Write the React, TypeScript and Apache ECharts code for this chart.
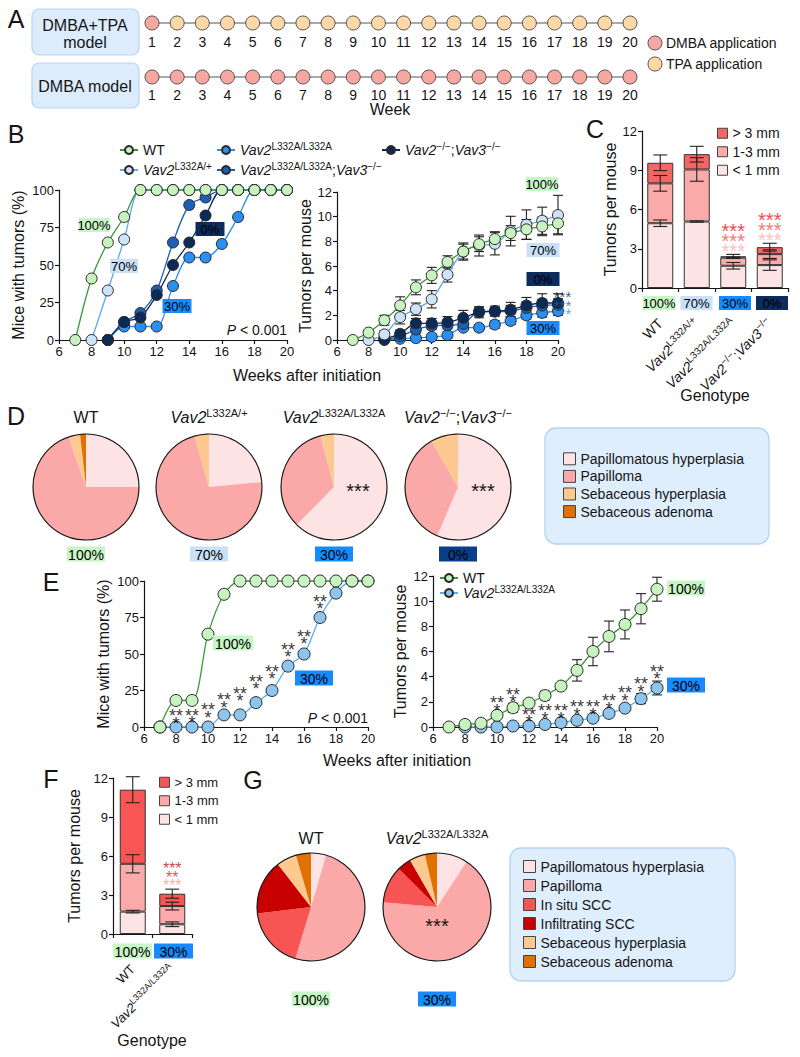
import React, { useEffect, useRef } from 'react';
import * as echarts from 'echarts';

const FONT = "'Liberation Sans', Arial, Helvetica, sans-serif";
const INK = '#151515';

// ---------------- Panel A ----------------
const aWeeks = ['1', '2', '3', '4', '5', '6', '7', '8', '9', '10', '11', '12', '13', '14', '15', '16', '17', '18', '19', '20'];
const aRowDmbaTpa = ['DMBA', 'TPA', 'TPA', 'TPA', 'TPA', 'TPA', 'TPA', 'TPA', 'TPA', 'TPA', 'TPA', 'TPA', 'TPA', 'TPA', 'TPA', 'TPA', 'TPA', 'TPA', 'TPA', 'TPA'];
const aRowDmba = ['DMBA', 'DMBA', 'DMBA', 'DMBA', 'DMBA', 'DMBA', 'DMBA', 'DMBA', 'DMBA', 'DMBA', 'DMBA', 'DMBA', 'DMBA', 'DMBA', 'DMBA', 'DMBA', 'DMBA', 'DMBA', 'DMBA', 'DMBA'];
const aColors: Record<string, string> = { DMBA: '#f7a7a1', TPA: '#fdd8a7' };

// ---------------- Panel B ----------------
const bWeeks = [7, 8, 9, 10, 11, 12, 13, 14, 15, 16, 17, 18, 19, 20];
const bIncWT = [0, 41, 65, 82, 100, 100, 100, 100, 100, 100, 100, 100, 100, 100];
const bIncHet = [null, 0, 33, 67, 100, 100, 100, 100, 100, 100, 100, 100, 100, 100];
const bIncHom = [null, null, 0, 9, 9, 9, 36, 55, 55, 64, 82, 100, 100, 100];
const bIncHomVav3 = [null, null, 0, 12, 18, 33, 65, 90, 95, 100, 100, 100, 100, 100];
const bIncKO = [null, null, 0, 12, 15, 30, 50, 65, 83, 100, 100, 100, 100, 100];

const bTumWT = [0, 0.6, 1.6, 2.8, 4.27, 5.24, 6.33, 7.17, 7.77, 8.18, 8.67, 8.97, 9.21, 9.46];
const bTumWTErr = [0, 0.15, 0.4, 0.7, 0.6, 0.65, 0.5, 0.6, 0.6, 0.6, 0.6, 0.8, 0.75, 0.85];
const bTumHet = [null, 0, 0.45, 1.85, 2.5, 3.3, 5.3, 7.17, 7.66, 7.8, 8.83, 9.35, 9.67, 10.13];
const bTumHetErr = [null, 0, 0.3, 0.55, 0.5, 0.7, 0.6, 0.7, 0.85, 0.9, 1.2, 1.2, 1.1, 1.6];
const bTumHom = [null, null, 0, 0.1, 0.15, 0.25, 0.4, 1.0, 1.0, 1.25, 1.55, 2.0, 2.2, 2.35];
const bTumHomErr = [null, null, 0, 0.1, 0.15, 0.2, 0.25, 0.2, 0.25, 0.3, 0.3, 0.3, 0.35, 0.35];
const bTumHomVav3 = [null, null, 0.05, 0.3, 0.85, 1.15, 1.2, 1.3, 2.3, 2.3, 2.35, 2.6, 2.8, 2.85];
const bTumHomVav3Err = [null, null, 0.05, 0.2, 0.3, 0.3, 0.3, 0.35, 0.35, 0.35, 0.45, 0.5, 0.5, 0.5];
const bTumKO = [null, null, 0.1, 0.5, 1.35, 1.35, 1.45, 1.8, 2.25, 2.35, 2.45, 2.8, 3.0, 3.0];
const bTumKOErr = [null, null, 0.1, 0.3, 0.4, 0.4, 0.45, 0.6, 0.45, 0.4, 0.6, 0.65, 0.75, 0.75];
const bStarCenterY = 3.07;
const bStarText = ['***', '***', '***'];
const bStarGroups = ['KO', 'L332A/L332A;Vav3', 'L332A/L332A'];

// ---------------- Panel C ----------------
const cGenotypes = ['WT', 'L332A/+', 'L332A/L332A', 'KO'];
const cPercent = ['100%', '70%', '30%', '0%'];
const cSmall = [4.95, 5.08, 1.7, 1.75];
const cSmallErr = [0.25, 0.05, 0.25, 0.4];
const cMedium = [3.05, 3.98, 0.62, 0.84];
const cMediumErr = [0.6, 0.9, 0.05, 0.33];
const cLarge = [1.57, 1.17, 0.1, 0.53];
const cLargeErr = [0.6, 0.6, 0.15, 0.3];
const cStarCats = [2, 3];
const cStarCenterY = [3.9, 4.74];
const cStarText = ['***', '***', '***'];
const cStarColor = ['#e8141c', '#f25555', '#f7b0b0'];

// ---------------- Panel D ----------------
const dCats = ['Papillomatous hyperplasia', 'Papilloma', 'Sebaceous hyperplasia', 'Sebaceous adenoma'];
const dWT = [25, 69.7, 3.5, 1.8];
const dHet = [23.5, 72.1, 4.4, 0];
const dHom = [62.4, 33.5, 4.1, 0];
const dKO = [56.4, 35.3, 8.3, 0];
const dGenotypes = ['WT', 'L332A/+', 'L332A/L332A', 'KO'];
const dPercent = ['100%', '70%', '30%', '0%'];

// ---------------- Panel E ----------------
const eWeeks = [7, 8, 9, 10, 11, 12, 13, 14, 15, 16, 17, 18, 19, 20];
const eIncWT = [0, 18.2, 18.2, 63.6, 90.9, 100, 100, 100, 100, 100, 100, 100, 100, 100];
const eIncHom = [0, 0, 0, 0, 8.3, 8.3, 16.7, 25, 41.7, 50, 75, 91.7, 100, 100];
const eTumWT = [0, 0.2, 0.3, 0.93, 1.53, 1.9, 2.5, 3.25, 4.5, 6.0, 7.2, 8.15, 9.4, 10.95];
const eTumWTErr = [0, 0.1, 0.1, 0.25, 0.35, 0.12, 0.35, 0.2, 0.85, 1.13, 1.22, 1.15, 1.2, 0.95];
const eTumHom = [null, 0, 0, 0, 0.08, 0.08, 0.2, 0.35, 0.53, 0.7, 1.08, 1.5, 2.25, 3.1];
const eTumHomErr = [null, 0, 0, 0, 0.05, 0.05, 0.08, 0.1, 0.1, 0.12, 0.15, 0.25, 0.4, 0.55];
const eIncStarWeeks = [8, 9, 10, 11, 12, 13, 14, 15, 16, 17];
const eIncStarY = [7.5, 8, 11.6, 18.5, 23, 31, 38, 53, 62, 86];
const eTumStarWeeks = [10, 11, 12, 13, 14, 15, 16, 17, 18, 19, 20];
const eTumStarY = [1.9, 2.6, 1.0, 1.27, 1.27, 1.6, 1.6, 2.06, 2.7, 3.4, 4.4];

// ---------------- Panel F ----------------
const fGenotypes = ['WT', 'L332A/L332A'];
const fPercent = ['100%', '30%'];
const fSmall = [1.72, 0.75];
const fSmallErr = [0.1, 0.18];
const fMedium = [3.68, 1.4];
const fMediumErr = [0.7, 0.3];
const fLarge = [5.7, 0.95];
const fLargeErr = [1.0, 0.35];
const fStarCenterY = 4.67;
const fStarText = ['***', '**', '***'];
const fStarColor = ['#b8161c', '#cf2a2a', '#f59a9a'];

// ---------------- Panel G ----------------
const gCats = ['Papillomatous hyperplasia', 'Papilloma', 'In situ SCC', 'Infiltrating SCC', 'Sebaceous hyperplasia', 'Sebaceous adenoma'];
const gWT = [4.5, 50.2, 18.4, 16.4, 6, 4.5];
const gHom = [9.2, 67.2, 11.1, 4.2, 4.7, 3.6];
const gGenotypes = ['WT', 'L332A/L332A'];
const gPercent = ['100%', '30%'];

// ---------------- styles ----------------
const lesionColors: Record<string, string> = {
  'Papillomatous hyperplasia': '#fde3e3',
  Papilloma: '#fba8a8',
  'In situ SCC': '#f75454',
  'Infiltrating SCC': '#c80000',
  'Sebaceous hyperplasia': '#fdc990',
  'Sebaceous adenoma': '#e07000',
};
const gStyle: Record<string, { fill: string; line: string }> = {
  WT: { fill: '#c8f2bf', line: '#3b9a37' },
  'L332A/+': { fill: '#cfe3f8', line: '#5ea9ee' },
  'L332A/L332A': { fill: '#2a8ff0', line: '#2a8ff0' },
  'L332A/L332A;Vav3': { fill: '#1d5fb5', line: '#1d5fb5' },
  KO: { fill: '#0c2a56', line: '#0c2a56' },
  'E:WT': { fill: '#c8f2bf', line: '#3b9a37' },
  'E:L332A/L332A': { fill: '#8dc5ef', line: '#5aaef0' },
};
const genoLabel: Record<string, string> = {
  WT: '{n|WT}',
  'L332A/+': '{it|Vav2}{sup|L332A/+}',
  'L332A/L332A': '{it|Vav2}{sup|L332A/L332A}',
  'L332A/L332A;Vav3': '{it|Vav2}{sup|L332A/L332A}{n|;}{it|Vav3}{sup|−/−}',
  KO: '{it|Vav2}{sup|−/−}{n|;}{it|Vav3}{sup|−/−}',
  'E:WT': '{n|WT}',
  'E:L332A/L332A': '{it|Vav2}{sup|L332A/L332A}',
};
const sizeLabel: Record<string, string> = {
  'C:>3': '> 3 mm', 'C:1-3': '1-3 mm', 'C:<1': '< 1 mm',
  'F:>3': '> 3 mm', 'F:1-3': '1-3 mm', 'F:<1': '< 1 mm',
};
const pctTheme: Record<string, { bg: string; fg: string }> = {
  '100%': { bg: '#c7f5c5', fg: '#111' },
  '70%': { bg: '#c8e0f8', fg: '#111' },
  '30%': { bg: '#168bff', fg: '#fff' },
  '0%': { bg: '#0d2b5b', fg: '#fff' },
};

const RICH = (size: number, sup: number) => ({
  n: { fontSize: size, lineHeight: size + 4, fontFamily: FONT, color: INK, fontWeight: 'normal' },
  it: { fontSize: size, lineHeight: size + 4, fontFamily: FONT, color: INK, fontStyle: 'italic', fontWeight: 'normal' },
  ip: { fontSize: size, lineHeight: size + 4, fontFamily: FONT, color: INK, fontStyle: 'italic', fontWeight: 'normal' },
  sup: { fontSize: sup, lineHeight: sup, fontFamily: FONT, color: INK, verticalAlign: 'top', fontWeight: 'normal' },
});

const pairs = (xs: number[], ys: (number | null)[]) =>
  xs.map((x, i) => (ys[i] == null ? null : [x, ys[i]])).filter(Boolean);
const triples = (xs: number[], ys: (number | null)[], es: (number | null)[]) =>
  xs.map((x, i) => (ys[i] == null || !es[i] ? null : [x, ys[i], es[i]])).filter(Boolean);
const cumulate = (...arrs: number[][]) => {
  const out: number[][] = [];
  let run = arrs[0].map(() => 0);
  arrs.forEach((a) => { run = run.map((v, i) => v + a[i]); out.push(run.slice()); });
  return out;
};

const axisLine = { show: true, lineStyle: { color: INK, width: 1.2 } };
const axisTick = { show: true, length: 4, lineStyle: { color: INK, width: 1.2 } };
const tickLabel = { color: INK, fontSize: 13, fontFamily: FONT, margin: 5 };

const valX = (gi: number, min: number, max: number, interval: number) => ({
  type: 'value', gridIndex: gi, min, max, interval, axisLine, axisTick, axisLabel: tickLabel, splitLine: { show: false },
});
const valY = (gi: number, min: number, max: number, interval: number, name: string, nameGap: number) => ({
  type: 'value', gridIndex: gi, min, max, interval, axisLine, axisTick, axisLabel: tickLabel, splitLine: { show: false },
  name, nameLocation: 'middle', nameGap, nameRotate: 90,
  nameTextStyle: { fontSize: 16, color: INK, fontFamily: FONT },
});

const lineSeries = (name: string, gi: number, data: any[], size: number) => {
  const s = gStyle[name];
  return {
    type: 'line', name, xAxisIndex: gi, yAxisIndex: gi, data, smooth: 0.3, symbol: 'circle', symbolSize: size,
    lineStyle: { color: s.line, width: 1.3 }, itemStyle: { color: s.fill, borderColor: '#2a2a2a', borderWidth: 1 },
    emphasis: { disabled: true }, silent: true, z: 3, clip: false,
  };
};
const errSeries = (gi: number, data: any[], half: number, z = 2) => ({
  type: 'custom', xAxisIndex: gi, yAxisIndex: gi, silent: true, z, data, encode: { x: 0, y: 1 },
  renderItem: (params: any, api: any) => {
    const x = api.value(0), y = api.value(1), e = api.value(2);
    const hi = api.coord([x, y + e]);
    const lo = api.coord([x, y - e]);
    const st = { stroke: '#222', lineWidth: 1.1 };
    return {
      type: 'group',
      children: [
        { type: 'line', shape: { x1: hi[0], y1: hi[1], x2: lo[0], y2: lo[1] }, style: st },
        { type: 'line', shape: { x1: hi[0] - half, y1: hi[1], x2: hi[0] + half, y2: hi[1] }, style: st },
        { type: 'line', shape: { x1: lo[0] - half, y1: lo[1], x2: lo[0] + half, y2: lo[1] }, style: st },
      ],
    };
  },
});
// one label per point; rows of stars stacked, each row with its own colour
const starSeries = (gi: number, points: number[][], rows: string[], colors: string[], fontSize: number, lineHeight: number, position = 'inside') => {
  const rich: any = {};
  rows.forEach((_, k) => { rich['r' + k] = { color: colors[k], fontSize, lineHeight, fontFamily: FONT }; });
  const text = rows.map((r, k) => `{r${k}|${r}}`).join('\n');
  return {
    type: 'scatter', xAxisIndex: gi, yAxisIndex: gi, symbolSize: 1, itemStyle: { color: 'rgba(0,0,0,0)' }, silent: true, z: 6,
    data: points,
    label: { show: true, position, distance: 4, formatter: text, rich, align: 'center', offset: [0, Math.round(fontSize * 0.22)] },
  };
};
const barSeries = (name: string, gi: number, data: number[], color: string) => ({
  type: 'bar', name, xAxisIndex: gi, yAxisIndex: gi, data, stack: 'tot' + gi, barWidth: 26,
  itemStyle: { color, borderColor: '#333', borderWidth: 1 }, silent: true, z: 2,
});
const pieSeries = (cats: string[], values: number[], cx: number, cy: number, r: number) => ({
  type: 'pie', center: [cx, cy], radius: r, startAngle: 90, clockwise: true, silent: true,
  label: { show: false }, labelLine: { show: false }, emphasis: { disabled: true }, itemStyle: { borderWidth: 0 },
  data: cats.map((c, i) => ({ name: c, value: values[i], itemStyle: { color: lesionColors[c] } })),
});

const lineLegend = (name: string, left: number, top: number) => ({
  left, top, padding: 0, itemWidth: 18, itemHeight: 10, itemGap: 0, selectedMode: false, z: 10,
  data: [name], formatter: (n: string) => genoLabel[n],
  textStyle: { fontSize: 14, lineHeight: 18, color: INK, fontFamily: FONT, fontWeight: 'normal', rich: RICH(14, 10) },
});
const boxLegend = (names: string[], left: number, top: number, size: number, lh: number, icon: number, fmt?: (n: string) => string) => ({
  left, top, padding: 0, orient: 'vertical', itemWidth: icon, itemHeight: icon, itemGap: 0, icon: 'rect', selectedMode: false, z: 10,
  data: names, formatter: fmt || ((n: string) => n),
  itemStyle: { borderColor: '#444', borderWidth: 1 },
  textStyle: { fontSize: size, lineHeight: lh, color: INK, fontFamily: FONT },
});

const T = (text: string, x: number, y: number, o: any = {}) => ({
  type: 'text', x, y, z: 20, silent: true,
  style: {
    text, fill: INK, fontSize: o.size ?? 14, fontFamily: FONT, fontStyle: o.italic ? 'italic' : 'normal', fontWeight: 'normal',
    align: o.align ?? 'center', textAlign: o.align ?? 'center', verticalAlign: o.va ?? 'middle', textVerticalAlign: o.va ?? 'middle',
    rich: o.rich,
  },
});
const pctBox = (label: string, x: number, y: number, w: number, size = 13, bg?: string) => ({
  type: 'text', x, y, z: 20, silent: true,
  style: {
    text: `{b|${label}}`, align: 'center', verticalAlign: 'middle',
    rich: { b: { backgroundColor: bg ?? pctTheme[label].bg, color: pctTheme[label].fg, fontSize: size, fontFamily: FONT, width: w, align: 'center', lineHeight: size + 3, padding: [1, 0, 0, 0] } },
  },
});

function buildOption() {
  const grid = [
    { left: 152, top: 18, width: 478, height: 10 },
    { left: 152, top: 72, width: 478, height: 10 },
    { left: 59, top: 190, width: 228, height: 150 },
    { left: 337, top: 192, width: 221, height: 148 },
    { left: 642, top: 131, width: 146, height: 157 },
    { left: 144, top: 581, width: 224, height: 146 },
    { left: 433, top: 576, width: 224, height: 151 },
    { left: 113, top: 778, width: 79, height: 156 },
  ].map((g) => ({ ...g, outerBoundsMode: 'none', containLabel: false }));

  const aX = (gi: number, margin: number) => ({
    type: 'category', gridIndex: gi, data: aWeeks, boundaryGap: false,
    axisLine: { show: false }, axisTick: { show: false },
    axisLabel: { color: INK, fontSize: 14, fontFamily: FONT, margin, interval: 0 },
  });
  const aY = (gi: number) => ({ type: 'value', gridIndex: gi, min: -1, max: 1, show: false });

  const catX = (gi: number, cats: string[], margin: number, size: number, sup: number) => ({
    type: 'category', gridIndex: gi, data: cats, boundaryGap: true, axisLine,
    axisTick: { show: true, length: 4, alignWithLabel: false, lineStyle: { color: INK, width: 1.2 } },
    axisLabel: { rotate: 45, margin, interval: 0, formatter: (v: string) => genoLabel[v], rich: RICH(size, sup) },
  });

  const xAxis = [
    aX(0, 7), aX(1, 6),
    valX(2, 6, 20, 2), valX(3, 6, 20, 2),
    catX(4, cGenotypes, 33, 14, 10),
    valX(5, 6, 20, 2), valX(6, 6, 20, 2),
    catX(7, fGenotypes, 33, 13, 9),
  ];
  const yAxis = [
    aY(0), aY(1),
    valY(2, 0, 100, 25, 'Mice with tumors (%)', 33),
    valY(3, 0, 12, 2, 'Tumors per mouse', 23),
    valY(4, 0, 12, 3, 'Tumors per mouse', 21),
    valY(5, 0, 100, 25, 'Mice with tumors (%)', 33),
    valY(6, 0, 12, 2, 'Tumors per mouse', 25),
    valY(7, 0, 12, 3, 'Tumors per mouse', 31),
  ];

  const series: any[] = [];
  // A
  [aRowDmbaTpa, aRowDmba].forEach((row, gi) =>
    series.push({
      type: 'line', xAxisIndex: gi, yAxisIndex: gi, silent: true, symbol: 'circle', symbolSize: 14,
      data: row.map((t) => ({ value: 0, itemStyle: { color: aColors[t] } })),
      lineStyle: { color: '#555', width: 1.2 }, itemStyle: { borderColor: '#555', borderWidth: 1 },
    })
  );

  // B left (incidence)
  const bInc: [string, (number | null)[]][] = [
    ['L332A/L332A', bIncHom], ['L332A/L332A;Vav3', bIncHomVav3], ['KO', bIncKO], ['L332A/+', bIncHet], ['WT', bIncWT],
  ];
  bInc.forEach(([name, v]) => series.push(lineSeries(name, 2, pairs(bWeeks, v), 11)));

  // B right (tumours per mouse)
  const bTum: [string, (number | null)[], (number | null)[]][] = [
    ['L332A/L332A', bTumHom, bTumHomErr], ['L332A/L332A;Vav3', bTumHomVav3, bTumHomVav3Err], ['KO', bTumKO, bTumKOErr],
    ['L332A/+', bTumHet, bTumHetErr], ['WT', bTumWT, bTumWTErr],
  ];
  bTum.forEach(([, v, e]) => series.push(errSeries(3, triples(bWeeks, v, e), 5)));
  bTum.forEach(([name, v]) => series.push(lineSeries(name, 3, pairs(bWeeks, v), 11)));
  series.push(starSeries(3, [[20, bStarCenterY]], bStarText, bStarGroups.map((g) => gStyle[g].fill), 15, 8.5, 'right'));

  // C stacked bars
  series.push(barSeries('C:<1', 4, cSmall, '#fde4e4'));
  series.push(barSeries('C:1-3', 4, cMedium, '#fbaaaa'));
  series.push(barSeries('C:>3', 4, cLarge, '#f66565'));
  const cCum = cumulate(cSmall, cMedium, cLarge);
  [cSmallErr, cMediumErr, cLargeErr].forEach((err, k) =>
    series.push(errSeries(4, cGenotypes.map((_, i) => [i, cCum[k][i], err[i]]), 7, 4)));
  series.push(starSeries(4, cStarCats.map((c, i) => [c, cStarCenterY[i]]), cStarText, cStarColor, 20, 10));

  // E left (incidence)
  series.push(lineSeries('E:L332A/L332A', 5, pairs(eWeeks, eIncHom), 12));
  series.push(lineSeries('E:WT', 5, pairs(eWeeks, eIncWT), 12));
  series.push(starSeries(5, eIncStarWeeks.map((w, i) => [w, eIncStarY[i]]), ['**', '*'], ['#000', '#000'], 18, 7.5));

  // E right (tumours)
  series.push(errSeries(6, triples(eWeeks, eTumWT, eTumWTErr), 5));
  series.push(errSeries(6, triples(eWeeks, eTumHom, eTumHomErr), 5));
  series.push(lineSeries('E:L332A/L332A', 6, pairs(eWeeks, eTumHom), 12));
  series.push(lineSeries('E:WT', 6, pairs(eWeeks, eTumWT), 12));
  series.push(starSeries(6, eTumStarWeeks.map((w, i) => [w, eTumStarY[i]]), ['**', '*'], ['#000', '#000'], 18, 7.5));

  // F stacked bars
  series.push(barSeries('F:<1', 7, fSmall, '#fde4e4'));
  series.push(barSeries('F:1-3', 7, fMedium, '#fbaaaa'));
  series.push(barSeries('F:>3', 7, fLarge, '#fa5555'));
  const fCum = cumulate(fSmall, fMedium, fLarge);
  [fSmallErr, fMediumErr, fLargeErr].forEach((err, k) =>
    series.push(errSeries(7, fGenotypes.map((_, i) => [i, fCum[k][i], err[i]]), 7, 4)));
  series.push(starSeries(7, [[1, fStarCenterY]], fStarText, fStarColor, 16, 8.5));

  // D pies
  const dCenters = [86, 209, 334, 458];
  [dWT, dHet, dHom, dKO].forEach((v, i) => series.push(pieSeries(dCats, v, dCenters[i], 487, 53)));
  // G pies
  const gCenters = [311, 437];
  [gWT, gHom].forEach((v, i) => series.push(pieSeries(gCats, v, gCenters[i], 907, 54)));

  const legend = [
    lineLegend('WT', 119, 141),
    lineLegend('L332A/+', 119, 161),
    lineLegend('L332A/L332A', 216, 141),
    lineLegend('L332A/L332A;Vav3', 216, 161),
    lineLegend('KO', 381, 141),
    lineLegend('E:WT', 439, 569),
    lineLegend('E:L332A/L332A', 439, 584),
    boxLegend(['C:>3', 'C:1-3', 'C:<1'], 717, 124, 14, 18.5, 10, (n) => sizeLabel[n]),
    boxLegend(['F:>3', 'F:1-3', 'F:<1'], 159, 773, 13, 18.5, 10, (n) => sizeLabel[n]),
    boxLegend(dCats, 563, 450, 14, 17.6, 12),
    boxLegend(gCats, 523, 857, 14, 19, 12),
  ];

  const R14 = RICH(14, 10);
  const R16 = RICH(16, 11);
  const graphic: any[] = [
    // panel letters
    T('A', 16, 19, { size: 25 }), T('B', 16, 134, { size: 25 }), T('C', 595, 129, { size: 25 }),
    T('D', 16, 416, { size: 25 }), T('E', 51, 582, { size: 25 }), T('F', 51, 779, { size: 25 }), T('G', 253, 780, { size: 25 }),
    // Panel A boxes
    { type: 'rect', z: 1, silent: true, shape: { x: 32, y: 9, width: 107, height: 46, r: 7 }, style: { fill: '#dcecfc', stroke: '#b5d5f3', lineWidth: 1.2 } },
    { type: 'rect', z: 1, silent: true, shape: { x: 32, y: 63, width: 107, height: 45, r: 7 }, style: { fill: '#dcecfc', stroke: '#b5d5f3', lineWidth: 1.2 } },
    T('DMBA+TPA', 85, 25, { size: 16 }), T('model', 85, 42, { size: 16 }), T('DMBA model', 85, 86, { size: 16 }),
    T('Week', 390, 109, { size: 16 }),
    { type: 'circle', z: 20, silent: true, shape: { cx: 655, cy: 43, r: 7 }, style: { fill: aColors.DMBA, stroke: '#555', lineWidth: 1 } },
    { type: 'circle', z: 20, silent: true, shape: { cx: 655, cy: 64, r: 7 }, style: { fill: aColors.TPA, stroke: '#555', lineWidth: 1 } },
    T('DMBA application', 666, 43, { align: 'left' }), T('TPA application', 666, 64, { align: 'left' }),
    // axis titles
    T('Weeks after initiation', 307, 375, { size: 16 }), T('Weeks after initiation', 397, 760, { size: 16 }),
    T('Genotype', 715, 395, { size: 16 }), T('Genotype', 152, 1040, { size: 16 }),
    T('{ip|P}{n| < 0.001}', 287, 330, { align: 'right', rich: R14 }),
    T('{ip|P}{n| < 0.001}', 368, 718, { align: 'right', rich: R14 }),
    // B percent boxes
    pctBox('100%', 94, 225, 31), pctBox('70%', 124, 266, 28), pctBox('0%', 210, 229, 29), pctBox('30%', 177, 306, 29),
    pctBox('100%', 542, 184, 32), pctBox('70%', 543, 250, 33), pctBox('0%', 543, 279, 33), pctBox('30%', 543, 328, 33),
    // C percent boxes
    ...cPercent.map((p, i) => pctBox(p, [659, 696.5, 735, 772][i], 303, 32)),
    // D
    { type: 'rect', z: 1, silent: true, shape: { x: 545, y: 428, width: 224, height: 116, r: 11 }, style: { fill: '#deeefc', stroke: '#b3d3f3', lineWidth: 1.3 } },
    ...dCenters.map((cx) => ({ type: 'circle', z: 20, silent: true, shape: { cx, cy: 487, r: 53 }, style: { fill: 'none', stroke: '#1a1a1a', lineWidth: 1.2 } })),
    ...dGenotypes.map((g, i) => T(genoLabel[g], dCenters[i], 417, { rich: R16 })),
    ...dPercent.map((p, i) => pctBox(p, dCenters[i], 554, 38, 14, p === '0%' ? '#0b3e88' : undefined)),
    T('***', 358, 491, { size: 20 }), T('***', 483, 491, { size: 20 }),
    // E percent boxes
    pctBox('100%', 233, 643, 40, 14), pctBox('30%', 314, 678, 38, 14),
    pctBox('100%', 686, 588, 38, 14), pctBox('30%', 686, 685, 38, 14),
    // F percent boxes
    ...fPercent.map((p, i) => pctBox(p, [132.5, 173.5][i], 951, 39, 14)),
    // G
    { type: 'rect', z: 1, silent: true, shape: { x: 510, y: 848, width: 225, height: 133, r: 11 }, style: { fill: '#deeefc', stroke: '#b3d3f3', lineWidth: 1.3 } },
    ...gCenters.map((cx) => ({ type: 'circle', z: 20, silent: true, shape: { cx, cy: 907, r: 54 }, style: { fill: 'none', stroke: '#1a1a1a', lineWidth: 1.2 } })),
    ...gGenotypes.map((g, i) => T(genoLabel[g], gCenters[i], 838, { rich: R16 })),
    ...gPercent.map((p, i) => pctBox(p, gCenters[i], 999, 38, 14)),
    T('***', 437, 926, { size: 20 }),
  ];

  return {
    animation: false,
    backgroundColor: '#ffffff',
    textStyle: { fontFamily: FONT },
    grid, xAxis, yAxis, series, legend, graphic,
  };
}

export default function App() {
  const ref = useRef<HTMLDivElement>(null);
  useEffect(() => {
    const chart = echarts.init(ref.current as HTMLDivElement, null, { renderer: 'svg' });
    chart.setOption(buildOption() as any);
    return () => chart.dispose();
  }, []);
  return <div ref={ref} style={{ position: 'absolute', left: 0, top: 0, width: 800, height: 1057, background: '#fff' }} />;
}
